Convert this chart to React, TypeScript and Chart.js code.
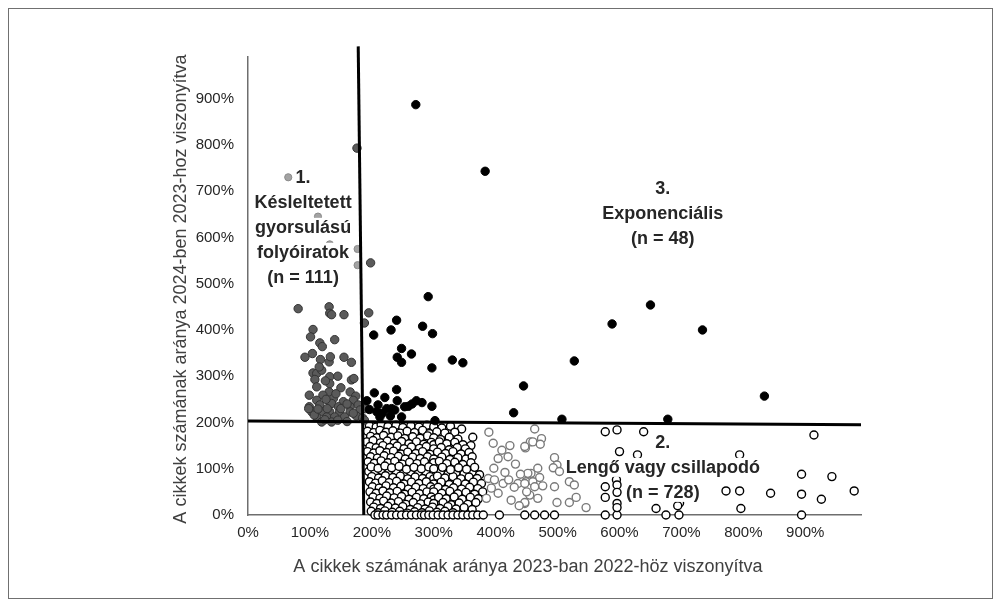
import React, { useEffect, useRef } from "react";
import { Chart, registerables } from "chart.js";

Chart.register(...registerables);

type P = [number, number];

// ---- tick values / texts ----
const xTickValues = [0, 100, 200, 300, 400, 500, 600, 700, 800, 900];
const yTickValues = [0, 100, 200, 300, 400, 500, 600, 700, 800, 900];
const xAxisTitle = "A cikkek számának aránya 2023-ban 2022-höz viszonyítva";
const yAxisTitle = "A cikkek számának aránya 2024-ben 2023-hoz viszonyítva";

// ---- threshold lines (drawn shapes, in % units) ----
const thresholdVertical: P[] = [[178, 1013], [187, 0]];
const thresholdHorizontal: P[] = [[0, 203], [990, 195]];

// ---- 3. Exponenciális (black) ----
const exponential: P[] = [
  [271, 887], [383, 743], [291, 472], [240, 421], [231, 400], [203, 389], [282, 408], [298, 392],
  [248, 360], [264, 348], [241, 341], [248, 330], [297, 318], [330, 335], [347, 329], [527, 333],
  [445, 279], [429, 221], [507, 207], [650, 454], [588, 413], [734, 400], [834, 257], [678, 207],
  [240, 271], [204, 264], [221, 254], [241, 247], [272, 247], [297, 235], [259, 235], [232, 230],
  [210, 238], [208, 223], [248, 212], [302, 204], [213, 212], [253, 234], [237, 227], [224, 230],
  [192, 247], [196, 228], [217, 220], [230, 214], [265, 240], [281, 243],
];

// ---- 1. Késleltetett gyorsulású (dark grey) ----
const delayed: P[] = [
  [81, 446], [131, 450], [132, 436], [135, 433], [155, 433], [195, 437], [188, 415], [176, 793], [198, 545],
  [105, 401], [101, 385], [116, 372], [120, 364], [140, 379], [104, 349], [92, 341], [117, 336], [131, 331],
  [133, 342], [155, 341], [167, 330], [105, 307], [111, 306], [119, 313], [132, 299], [108, 293], [167, 292],
  [171, 295], [132, 284], [111, 277], [150, 275], [165, 266], [131, 266], [99, 259], [121, 259], [174, 257],
  [111, 248], [138, 252], [154, 245], [170, 248], [99, 234], [116, 238], [135, 241], [146, 234], [165, 234],
  [178, 238], [103, 223], [119, 223], [132, 223], [148, 223], [165, 223], [181, 227], [111, 212], [127, 212],
  [140, 212], [156, 212], [175, 214], [119, 201], [135, 201], [98, 230], [107, 216], [124, 206], [145, 205],
  [160, 202], [170, 220], [185, 210], [150, 230], [128, 230], [113, 229], [160, 240], [142, 262], [125, 290],
  [115, 320], [145, 300], [126, 250], [190, 230], [188, 205],
];

// ---- light grey points of group 1 ----
const delayedLight: P[] = [[65, 730], [177, 575], [177, 540], [113, 645], [132, 585]];

// ---- 2. Lengő vagy csillapodó (white) ----
const oscUpper: P[] = [
  [196, 193], [207, 190], [215, 195], [226, 191], [239, 194], [250, 189], [263, 193], [276, 190], [289, 194], [300, 191], [313, 188], [327, 192], [345, 186],
  [193, 181], [203, 178], [213, 183], [223, 179], [234, 182], [246, 177], [257, 181], [269, 178], [282, 183], [293, 176], [305, 180], [318, 177], [334, 179],
  [198, 170], [208, 167], [219, 172], [231, 168], [242, 171], [253, 165], [266, 169], [278, 166], [290, 171], [300, 167], [311, 163], [325, 168], [339, 164], [363, 168],
  [192, 158], [202, 161], [214, 156], [225, 160], [236, 155], [248, 159], [260, 154], [272, 158], [284, 153], [296, 157], [300, 152], [309, 158], [321, 154], [334, 157], [347, 152], [360, 150],
  [197, 148], [207, 145], [218, 150], [229, 146], [241, 149], [252, 143], [264, 147], [277, 144], [288, 148], [300, 143], [312, 146], [325, 141], [338, 146], [351, 143],
  [193, 137], [203, 134], [213, 139], [224, 135], [235, 138], [247, 132], [258, 136], [271, 133], [282, 137], [294, 131], [306, 136], [319, 133], [331, 137], [344, 132], [357, 135],
  [198, 126], [209, 123], [220, 128], [231, 124], [243, 127], [254, 121], [266, 125], [278, 122], [290, 126], [300, 121], [313, 125], [326, 120], [339, 124], [352, 121], [362, 126],
  [194, 115], [204, 112], [215, 117], [226, 113], [237, 116], [249, 110], [261, 114], [273, 111], [285, 115], [297, 109], [300, 113], [309, 116], [321, 111], [334, 114], [347, 109], [360, 113],
  [199, 104], [210, 101], [221, 106], [232, 102], [244, 105], [256, 99], [268, 103], [280, 100], [292, 104], [300, 100], [314, 103], [327, 98], [340, 102], [353, 99], [366, 103],
];
const oscLower: P[] = [
  [195, 94], [205, 91], [216, 96], [227, 92], [239, 95], [251, 89], [263, 93], [275, 90], [287, 94], [300, 89], [311, 93], [323, 88], [336, 92], [349, 89], [362, 93], [374, 87],
  [200, 83], [211, 80], [222, 85], [234, 81], [246, 84], [258, 78], [270, 82], [282, 79], [294, 83], [300, 78], [306, 84], [318, 80], [331, 83], [344, 78], [357, 82], [370, 79],
  [196, 72], [206, 69], [217, 74], [228, 70], [240, 73], [252, 67], [264, 71], [276, 68], [288, 72], [300, 67], [312, 71], [325, 66], [338, 70], [351, 67], [364, 71], [377, 68],
  [201, 61], [212, 58], [223, 63], [235, 59], [247, 62], [259, 56], [271, 60], [283, 57], [295, 61], [300, 56], [307, 60], [319, 55], [332, 59], [345, 56], [358, 60], [371, 57],
  [197, 50], [207, 47], [218, 52], [229, 48], [241, 51], [253, 45], [265, 49], [277, 46], [289, 50], [300, 50], [313, 47], [326, 51], [339, 46], [352, 49], [366, 45], [379, 50],
  [202, 39], [213, 36], [224, 41], [236, 37], [248, 40], [260, 34], [272, 38], [284, 35], [296, 39], [300, 33], [308, 38], [320, 35], [333, 39], [346, 34], [359, 38], [372, 35],
  [198, 28], [208, 25], [219, 30], [231, 26], [243, 29], [255, 23], [267, 27], [279, 24], [291, 28], [300, 25], [315, 27], [328, 22], [341, 26], [355, 23], [368, 27],
  [203, 17], [214, 14], [226, 19], [238, 15], [250, 18], [262, 12], [274, 16], [286, 13], [298, 17], [310, 14], [323, 18], [336, 13], [349, 16], [362, 12],
  [199, 8], [210, 5], [221, 9], [233, 6], [245, 8], [257, 4], [269, 7], [281, 5], [293, 9], [305, 6], [318, 8], [331, 5],
];
const oscZeroRow: P[] = [
  [205, 0], [210, 0], [218, 0], [224, 0], [232, 0], [240, 0], [248, 0], [256, 0], [264, 0], [272, 0], [280, 0], [285, 0],
  [292, 0], [299, 0], [307, 0], [315, 0], [323, 0], [331, 0], [339, 0], [347, 0], [355, 0], [363, 0], [371, 0], [380, 0],
  [406, 0], [447, 0], [463, 0], [479, 0], [495, 0], [577, 0], [596, 0], [675, 0], [696, 0], [894, 0],
];
const oscFaded: P[] = [
  [389, 179], [396, 155], [423, 150], [448, 145], [456, 158], [404, 122], [420, 126], [397, 101], [388, 79], [398, 76],
  [412, 68], [421, 76], [436, 68], [449, 72], [457, 90], [393, 58], [404, 47], [425, 32], [447, 25], [455, 43], [385, 36],
  [463, 186], [447, 148], [460, 158], [474, 165], [472, 153], [495, 124], [499, 108], [493, 102], [503, 94], [468, 101],
  [452, 90], [471, 81], [460, 72], [447, 68], [476, 63], [463, 61], [495, 61], [519, 72], [527, 65], [450, 50], [468, 36],
  [499, 27], [519, 27], [530, 38], [447, 27], [546, 16], [410, 140], [432, 110], [415, 92], [440, 88], [430, 60], [438, 20],
];
const oscSparse: P[] = [
  [577, 180], [596, 184], [639, 180], [600, 137], [629, 130], [794, 130], [595, 76], [697, 26],
  [577, 61], [596, 65], [596, 49], [577, 38], [596, 25], [596, 16], [659, 14], [694, 20], [914, 173],
  [772, 52], [794, 52], [844, 47], [894, 88], [943, 83], [979, 52], [894, 45], [926, 34], [796, 14],
];

// ---- in-plot group labels (anchor in data units) ----
const groupLabels = [
  { x: 89, y: 731, lines: ["1.", "Késleltetett", "gyorsulású", "folyóiratok", "(n = 111)"] },
  { x: 670, y: 707, lines: ["3.", "Exponenciális", "(n = 48)"] },
  { x: 670, y: 158, lines: ["2.", "Lengő vagy csillapodó", "(n = 728)"] },
];

const FONT = '"Liberation Sans", Arial, sans-serif';

const toXY = (arr: P[]) => arr.map(([x, y]) => ({ x, y }));

const overlayPlugin = {
  id: "overlay",
  afterDatasetsDraw(chart: any) {
    const { ctx, scales } = chart;
    const xs = scales.x;
    const ys = scales.y;
    ctx.save();
    ctx.font = `bold 18px ${FONT}`;
    ctx.textAlign = "center";
    ctx.textBaseline = "middle";
    for (const g of groupLabels) {
      const cx = xs.getPixelForValue(g.x);
      const cy0 = ys.getPixelForValue(g.y);
      g.lines.forEach((t, i) => {
        const cy = cy0 + i * 25;
        const w = ctx.measureText(t).width;
        ctx.fillStyle = "#ffffff";
        ctx.fillRect(cx - w / 2 - 1, cy - 9, w + 2, 19);
        ctx.fillStyle = "#262626";
        ctx.fillText(t, cx, cy + 1);
      });
    }
    ctx.restore();
  },
  afterDraw(chart: any) {
    const { ctx } = chart;
    ctx.save();
    ctx.font = `18px ${FONT}`;
    ctx.fillStyle = "#404040";
    ctx.textAlign = "center";
    ctx.textBaseline = "middle";
    ctx.fillText(xAxisTitle, 519, 558);
    ctx.translate(172, 280);
    ctx.rotate(-Math.PI / 2);
    ctx.fillText(yAxisTitle, 0, 0);
    ctx.restore();
  },
};

export default function App() {
  const ref = useRef<HTMLCanvasElement | null>(null);

  useEffect(() => {
    if (!ref.current) return;
    const pt = (data: P[], bg: string, border: string, r: number, bw: number) => ({
      data: toXY(data),
      backgroundColor: bg,
      borderColor: border,
      pointRadius: r,
      pointHoverRadius: r,
      pointBorderWidth: bw,
      borderWidth: bw,
      clip: false as any,
    });
    const line = (data: P[]) => ({
      data: toXY(data),
      showLine: true,
      borderColor: "#000000",
      borderWidth: 3,
      pointRadius: 0,
      pointHoverRadius: 0,
      clip: false as any,
    });

    const chart = new Chart(ref.current, {
      type: "scatter",
      data: {
        datasets: [
          line(thresholdVertical),
          line(thresholdHorizontal),
          pt(exponential, "#000000", "#000000", 4.2, 1),
          pt(delayedLight, "#a3a3a3", "#8a8a8a", 3.6, 1),
          pt(delayed, "#5a5a5a", "#333333", 4.2, 1),
          pt(oscSparse, "#ffffff", "#000000", 4, 1.4),
          pt(oscZeroRow, "#ffffff", "#000000", 4, 1.4),
          pt(oscFaded, "#ffffff", "#7a7a7a", 4, 1.4),
          pt(oscUpper, "#ffffff", "#000000", 4, 1.4),
          pt(oscLower, "#ffffff", "#000000", 4, 1.4),
        ] as any,
      },
      options: {
        animation: false,
        responsive: false,
        maintainAspectRatio: false,
        layout: { padding: { top: 48, right: 131, left: 0, bottom: 0 } },
        plugins: { legend: { display: false }, tooltip: { enabled: false } },
        scales: {
          x: {
            type: "linear",
            min: 0,
            max: 990,
            grid: { display: false, drawTicks: false },
            border: { display: true, color: "#6e6e6e", width: 1.5 },
            afterBuildTicks: (s: any) => {
              s.ticks = xTickValues.map((v) => ({ value: v }));
            },
            afterFit: (s: any) => {
              s.height = 83;
            },
            ticks: {
              padding: 9,
              color: "#262626",
              font: { family: FONT, size: 15 },
              callback: (v: any) => `${v}%`,
              maxRotation: 0,
              autoSkip: false,
            },
          },
          y: {
            type: "linear",
            min: 0,
            max: 990,
            grid: { display: false, drawTicks: false },
            border: { display: true, color: "#6e6e6e", width: 1.5 },
            afterBuildTicks: (s: any) => {
              s.ticks = yTickValues.map((v) => ({ value: v }));
            },
            afterFit: (s: any) => {
              s.width = 239;
            },
            ticks: {
              padding: 14,
              color: "#262626",
              font: { family: FONT, size: 15 },
              callback: (v: any) => `${v}%`,
              autoSkip: false,
            },
          },
        },
      },
      plugins: [overlayPlugin],
    });
    return () => chart.destroy();
  }, []);

  return (
    <div
      style={{
        width: 983,
        height: 589,
        border: "1px solid #707070",
        background: "#ffffff",
      }}
    >
      <canvas ref={ref} width={983} height={589} style={{ display: "block" }} />
    </div>
  );
}
